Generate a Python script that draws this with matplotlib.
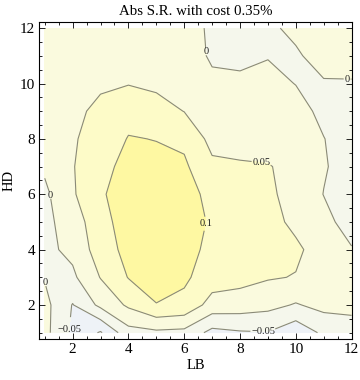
import numpy as np
import matplotlib
matplotlib.use("Agg")
import matplotlib.pyplot as plt
from matplotlib.ticker import MultipleLocator
from matplotlib.colors import ListedColormap, BoundaryNorm

# grid coordinates
lb = [1, 2, 3, 4, 5, 6, 7, 8, 9, 10, 11, 12]
hd = [1, 2, 3, 4, 5, 6, 7, 8, 9, 10, 11, 12]

# Abs S.R. values, one list per HD row (LB = 1..12)
sr_hd1 = [0.015, -0.06, -0.105, -0.018, -0.01, -0.014, -0.065, -0.055, -0.052, -0.085, -0.04, -0.02]
sr_hd2 = [0.015, -0.0523, 0.012, 0.058, 0.098, 0.0874, 0.03, 0.025, 0.015, -0.004, 0.015, 0.012]
sr_hd3 = [-0.003, -0.0094, 0.052, 0.102, 0.125, 0.108, 0.075, 0.0667, 0.054, 0.048, 0.03, 0.02]
sr_hd4 = [-0.012, 0.012, 0.075, 0.115, 0.13, 0.12, 0.085, 0.08, 0.072, 0.058, 0.03, 0.003]
sr_hd5 = [-0.012, 0.0225, 0.085, 0.12, 0.132, 0.125, 0.093, 0.08, 0.065, 0.04, 0.014, -0.02]
sr_hd6 = [-0.0103, 0.0439, 0.095, 0.12, 0.13, 0.12, 0.085, 0.07, 0.058, 0.034, -0.001, -0.022]
sr_hd7 = [0.0075, 0.047, 0.088, 0.112, 0.11, 0.108, 0.06, 0.053, 0.052, 0.04, 0.004, -0.02]
sr_hd8 = [0.015, 0.044, 0.075, 0.102, 0.099, 0.09, 0.035, 0.04, 0.035, 0.025, 0.001, -0.02]
sr_hd9 = [0.02, 0.042, 0.058, 0.0866, 0.07, 0.049, 0.035, 0.03, 0.025, 0.015, -0.01, -0.015]
sr_hd10 = [0.025, 0.032, 0.045, 0.0477, 0.04, 0.02, 0.006, 0.005, 0.012, -0.001, -0.002, -0.003]
sr_hd11 = [0.025, 0.027, 0.03, 0.03, 0.025, 0.015, -0.004, -0.006, -0.002, -0.003, 0.009, 0.016]
sr_hd12 = [0.025, 0.025, 0.025, 0.025, 0.02, 0.01, -0.004, -0.008, -0.004, 0.005, 0.012, 0.015]

levels = [-0.1, -0.05, 0.0, 0.05, 0.1]
labeled_levels = [-0.05, 0.0, 0.05, 0.1]
tick_vals = [2, 4, 6, 8, 10, 12]

Z = np.array([sr_hd1, sr_hd2, sr_hd3, sr_hd4, sr_hd5, sr_hd6,
              sr_hd7, sr_hd8, sr_hd9, sr_hd10, sr_hd11, sr_hd12])
X, Y = np.meshgrid(lb, hd)

band_colors = ['#E9EEF6', '#EEF2F7', '#F5F7EC', '#FAFADE', '#FDFBC8', '#FEF8A2']
bounds = [-1.0] + levels + [1.0]
cmap = ListedColormap(band_colors)
norm = BoundaryNorm(bounds, cmap.N)

plt.rcParams['font.family'] = ['Liberation Serif', 'DejaVu Serif']
plt.rcParams['contour.negative_linestyle'] = 'solid'

fig = plt.figure(figsize=(3.6, 3.8), dpi=100)
ax = fig.add_axes([0.109, 0.108, 0.870, 0.834])

line_col = '#8a8a78'
ax.contourf(X, Y, Z, levels=bounds, cmap=cmap, norm=norm)
ax.contour(X, Y, Z, levels=[levels[0]], colors=line_col, linewidths=0.8,
           linestyles='solid')
cs = ax.contour(X, Y, Z, levels=labeled_levels, colors=line_col, linewidths=0.8,
                linestyles='solid')

label_pos = [(6.84, 11.15), (11.84, 10.12), (8.77, 7.17), (6.6, 4.97),
             (1.25, 5.97), (1.11, 2.83), (2.0, 1.1), (8.83, 1.1)]
texts = ax.clabel(cs, manual=label_pos, inline=True,
                  inline_spacing=1, fontsize=7.5, colors='#222222',
                  fmt=lambda v: ('%g' % v).replace('-', '\u2212'))
for t in texts:
    t.set_rotation(0)

ax.set_xlim(0.803, 12.03)
ax.set_ylim(0.773, 12.22)
ax.set_xticks(tick_vals)
ax.set_yticks(tick_vals)
ax.xaxis.set_minor_locator(MultipleLocator(0.5))
ax.yaxis.set_minor_locator(MultipleLocator(0.5))
ax.tick_params(which='both', direction='in', top=True, right=True, labelsize=11,
               width=0.6, colors='black', pad=3)
ax.tick_params(which='major', length=4)
ax.tick_params(which='minor', length=2.2)
for s in ax.spines.values():
    s.set_linewidth(0.8)

ax.set_xlabel('LB', fontsize=10.5, labelpad=2)
ax.set_ylabel('HD', fontsize=10.5, labelpad=3)
ax.set_title('Abs S.R. with cost 0.35%', fontsize=10.7, pad=5)

fig.savefig('out.png', dpi=100, facecolor='white')
